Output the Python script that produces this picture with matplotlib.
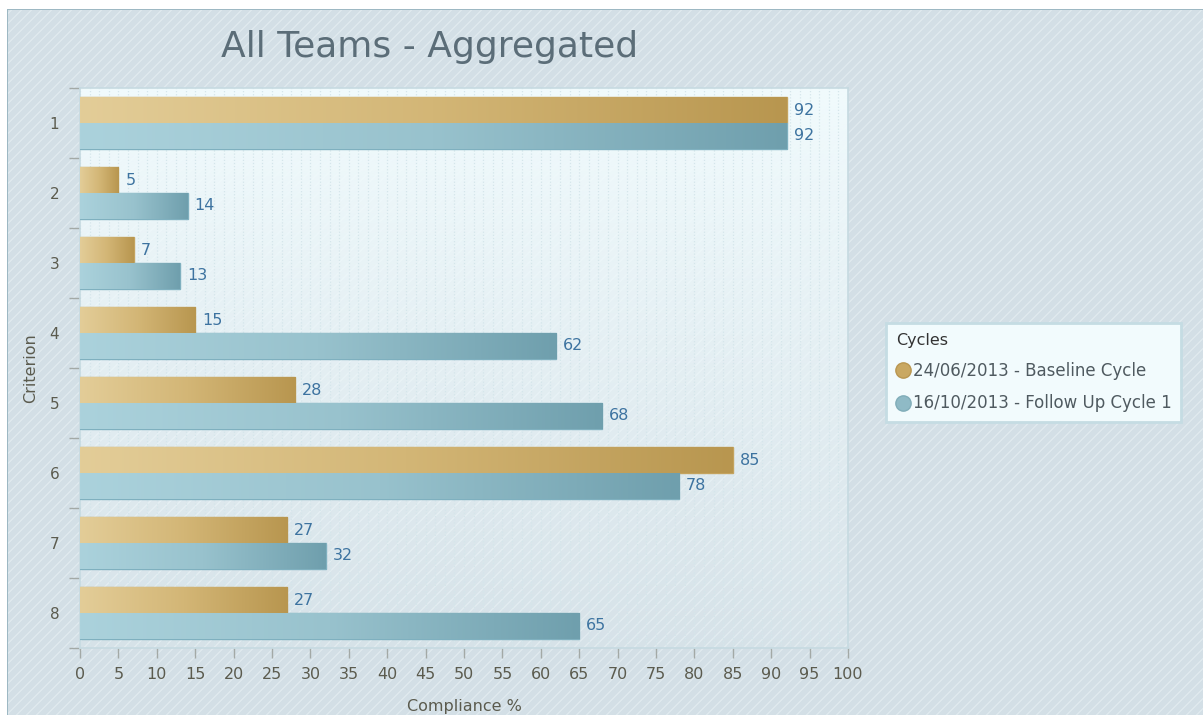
import numpy as np
import matplotlib
matplotlib.use("Agg")
import matplotlib.pyplot as plt
from matplotlib.colors import LinearSegmentedColormap, to_rgb
from matplotlib.lines import Line2D
from matplotlib.ticker import MultipleLocator

plt.rcParams["font.family"] = ["DejaVu Sans"]

criteria = ["1", "2", "3", "4", "5", "6", "7", "8"]
baseline = [92, 5, 7, 15, 28, 85, 27, 27]
follow_up = [92, 14, 13, 62, 68, 78, 32, 65]
series_names = ["24/06/2013 - Baseline Cycle", "16/10/2013 - Follow Up Cycle 1"]
x_ticks = list(range(0, 101, 5))

W, H, DPI = 1203, 715, 100
fig = plt.figure(figsize=(W / DPI, H / DPI), dpi=DPI)

# hatched background panel with thin border
rows, cols = np.mgrid[0:H, 0:W]
bg = np.empty((H, W, 3))
bg[:] = to_rgb("#d3dfe6")
stripe = ((cols + rows) % 10) < 2
bg[stripe] = to_rgb("#dee8ed")
bg[(rows < 9) | (cols < 7)] = 1.0
bg[(rows == 9) & (cols >= 7)] = to_rgb("#9db8c3")
bg[(cols == 7) & (rows >= 9)] = to_rgb("#9db8c3")
fig.figimage(bg, 0, 0, zorder=-10, origin="upper")

ax = fig.add_axes([80 / W, 1 - 648 / H, 768 / W, 560 / H])
ax.set_facecolor("none")

# plot area: pale gradient that fades into the background towards the bottom
grad = np.zeros((256, 2, 4))
grad[..., :3] = to_rgb("#f1fbfd")
grad[..., 3] = np.linspace(1.0, 0.12, 256)[:, None]
ax.imshow(grad, extent=[0, 1, 0, 1], transform=ax.transAxes,
          aspect="auto", zorder=0, origin="upper")

pos = np.arange(len(criteria))
h = 0.37
gold = ax.barh(pos - h / 2, baseline, height=h, color="#d7bd82",
               edgecolor="#c4a35e", linewidth=1, zorder=3)
blue = ax.barh(pos + h / 2, follow_up, height=h, color="#9cc6d1",
               edgecolor="#7fb0bf", linewidth=1, zorder=3)

cmap_gold = LinearSegmentedColormap.from_list("g", ["#e3cd98", "#d3b676", "#b8964f"])
cmap_blue = LinearSegmentedColormap.from_list("b", ["#abd2dc", "#98c2cd", "#6f9fad"])
ramp = np.linspace(0, 1, 256)[None, :]
for bars, cmap in ((gold, cmap_gold), (blue, cmap_blue)):
    for p in bars:
        x0, y0 = p.get_x(), p.get_y()
        im = ax.imshow(ramp, cmap=cmap, aspect="auto", zorder=3.5,
                       extent=[x0, x0 + p.get_width(), y0, y0 + p.get_height()])
        im.set_clip_path(p)
    ax.bar_label(bars, padding=5, color="#3d73a0", fontsize=11.5, zorder=5)

ax.set_xlim(0, 100)
ax.set_ylim(len(criteria) - 0.5, -0.5)
ax.set_aspect("auto")

ax.set_xticks(x_ticks)
ax.xaxis.set_minor_locator(MultipleLocator(1.25))
ax.grid(axis="x", which="both", color="#d5e6eb", linestyle=(0, (1, 1.5)),
        linewidth=0.9, zorder=1)
ax.set_axisbelow(True)

ax.set_yticks(pos)
ax.set_yticklabels(criteria)
ax.set_yticks(np.arange(-0.5, len(criteria)), minor=True)
ax.tick_params(axis="y", which="major", length=0, pad=15, labelsize=11,
               labelcolor="#5b5b4e")
ax.tick_params(axis="y", which="minor", length=8, color="#a3a9a6", width=1)
ax.tick_params(axis="x", which="major", length=7, color="#a3a9a6", width=1,
               labelsize=11.5, labelcolor="#5b5b4e", pad=7)
ax.tick_params(axis="x", which="minor", length=0)

for side, sp in ax.spines.items():
    sp.set_color("#c6dae1")
    sp.set_linewidth(1.2)

ax.set_xlabel("Compliance %", fontsize=11.5, color="#5b5b4e", labelpad=12)
ax.set_ylabel("Criterion", fontsize=11.5, color="#5b5b4e", labelpad=8)

fig.text(430 / W, 1 - 47 / H, "All Teams - Aggregated", fontsize=26,
         color="#5b6d78", ha="center", va="center")

handles = [
    Line2D([], [], marker="o", linestyle="none", markersize=11,
           markerfacecolor="#c9a862", markeredgecolor="#b99650"),
    Line2D([], [], marker="o", linestyle="none", markersize=11,
           markerfacecolor="#8fbac6", markeredgecolor="#80adb9"),
]
leg = fig.legend(handles, series_names, title="Cycles", loc="upper left",
                 bbox_to_anchor=(886 / W, 1 - 323 / H), borderaxespad=0,
                 fontsize=12, title_fontsize=11.5, frameon=True,
                 fancybox=False, handletextpad=0.2, handlelength=0.8,
                 labelspacing=0.85, borderpad=0.6, labelcolor="#4f5a60")
leg._legend_box.align = "left"
leg.get_title().set_color("#333333")
frame = leg.get_frame()
frame.set_facecolor("#f2fbfd")
frame.set_edgecolor("#c5dce3")
frame.set_linewidth(2)
frame.set_alpha(1)

fig.savefig("out.png", dpi=DPI)
